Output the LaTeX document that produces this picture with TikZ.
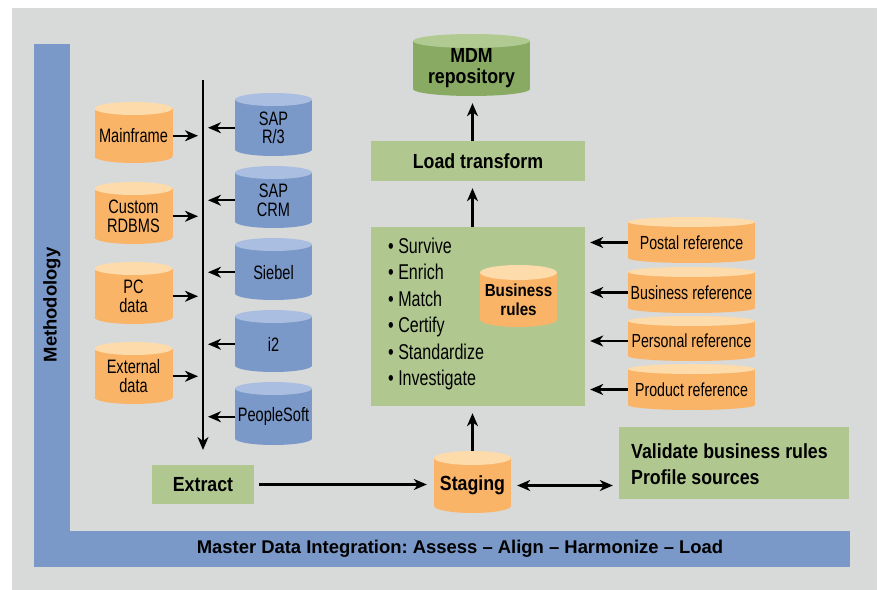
\documentclass[tikz,border=0pt]{standalone}
\usepackage{fontspec}
\setmainfont{Liberation Sans}
\newfontfamily\cond{Liberation Sans}[FakeStretch=0.75]
\newfontfamily\condB{Liberation Sans}[FakeStretch=0.87]
\usetikzlibrary{arrows.meta}
\frenchspacing
\definecolor{panel}{HTML}{D8DAD9}
\definecolor{barblue}{HTML}{7A98C8}
\definecolor{bluebody}{HTML}{7A98C8}
\definecolor{bluetop}{HTML}{AABEE2}
\definecolor{orbody}{HTML}{FAB468}
\definecolor{ortop}{HTML}{FDDBAA}
\definecolor{boxgreen}{HTML}{B0C890}
\definecolor{mdmbody}{HTML}{88AA62}
\definecolor{mdmtop}{HTML}{B0CA92}
\tikzset{
  arr/.style={line width=2.2bp, -{Stealth[length=13bp,width=11bp,inset=4bp]}},
  dbl/.style={line width=2.2bp, {Stealth[length=13bp,width=11bp,inset=4bp]}-{Stealth[length=13bp,width=11bp,inset=4bp]}},
  greenbox/.style={fill=boxgreen, inner sep=0pt},
  boldlabel/.style={font=\condB\bfseries\fontsize{20.5}{21}\selectfont},
}
\def\cylfont{\cond\fontsize{19.5}{18.5}\selectfont}
\newcommand\cyl[9]{%
  \fill[#7] ({#2-#4/2},{#3+#6}) rectangle ({#2+#4/2},{#3+#5-#6});
  \fill[#7] (#2,{#3+#5-#6}) ellipse [x radius={#4/2}, y radius={#6}];
  \fill[#8] (#2,{#3+#6}) ellipse [x radius={#4/2}, y radius={#6}];
  \coordinate (#1-top) at (#2,#3);
  \node[inner sep=0pt, minimum width=#4bp, minimum height={(#5-#6)*1bp}, align=center, font=\cylfont] (#1) at (#2,{#3+#5/2+#6/2}) {#9};
}
\begin{document}
\begin{tikzpicture}[x=1bp,y=-1bp]
\useasboundingbox (0,0) rectangle (882,590);
\fill[white] (0,0) rectangle (882,590);
\fill[panel] (12,8) rectangle (877,590);
% methodology L bar
\fill[barblue] (34,44) rectangle (70,567);
\fill[barblue] (34,531) rectangle (850,567);
\node[rotate=90, font=\bfseries\fontsize{18.5}{20}\selectfont] (method) at (52,305) {Methodology};
\node[font=\bfseries\fontsize{18.5}{20}\selectfont] (mdi) at (460,549) {Master Data Integration: Assess – Align – Harmonize – Load};

% left sources
\cyl{mainframe}{133.5}{102}{78}{61}{6.5}{orbody}{ortop}{Mainframe}
\cyl{rdbms}{133.5}{182}{78}{62}{6.5}{orbody}{ortop}{Custom\\RDBMS}
\cyl{pcdata}{133.5}{262}{78}{62}{6.5}{orbody}{ortop}{PC\\data}
\cyl{extdata}{133.5}{342}{78}{62}{6.5}{orbody}{ortop}{External\\data}

\cyl{sapr}{273.5}{93}{77}{63}{6.5}{bluebody}{bluetop}{SAP\\R/3}
\cyl{sapcrm}{273.5}{166}{77}{62}{6.5}{bluebody}{bluetop}{SAP\\CRM}
\cyl{siebel}{273.5}{238}{77}{62}{6.5}{bluebody}{bluetop}{Siebel}
\cyl{itwo}{273.5}{310}{77}{62}{6.5}{bluebody}{bluetop}{i2}
\cyl{psoft}{273.5}{382}{77}{63}{6.5}{bluebody}{bluetop}{PeopleSoft}

% references
\def\cylfont{\cond\fontsize{19}{18.5}\selectfont}
\cyl{postal}{691.5}{217}{127}{46}{5}{orbody}{ortop}{Postal reference}
\cyl{busref}{691.5}{267}{127}{46}{5}{orbody}{ortop}{Business reference}
\cyl{persref}{691.5}{316}{127}{45}{5}{orbody}{ortop}{Personal reference}
\cyl{prodref}{691.5}{364}{127}{46}{5}{orbody}{ortop}{Product reference}

% boxes
\node[greenbox, minimum width=214bp, minimum height=179bp] (stepbox) at (478,316.5) {};
\node[anchor=west, align=left, inner sep=0pt, font=\cond\fontsize{21.5}{26.6}\selectfont] (steps) at (388,314)
  {• Survive\\• Enrich\\• Match\\• Certify\\• Standardize\\• Investigate};
\node[greenbox, boldlabel, minimum width=214bp, minimum height=40bp] (load) at (478,161) {Load transform};
\node[greenbox, boldlabel, minimum width=102bp, minimum height=39bp] (extract) at (203,484.5) {Extract};
\node[greenbox, minimum width=230bp, minimum height=72bp] (validate) at (734,463) {};
\node[anchor=west, align=left, inner sep=0pt, font=\condB\bfseries\fontsize{20.5}{26}\selectfont] (valtext) at (631,464)
  {Validate business rules\\Profile sources};

\def\cylfont{\condB\bfseries\fontsize{17.5}{19}\selectfont}
\cyl{brules}{518.5}{265}{77}{62}{7.5}{orbody}{ortop}{Business\\rules}
\def\cylfont{\condB\bfseries\fontsize{20.5}{21}\selectfont}
\cyl{mdm}{471.5}{34}{117}{62}{7}{mdmbody}{mdmtop}{MDM\\repository}
\cyl{staging}{472.5}{451}{77}{62}{7}{orbody}{ortop}{Staging}

% bus line
\coordinate (bustop) at (203,80);
\coordinate (busbot) at (203,450);
\draw[arr, line width=2.5bp] (bustop) -- (busbot);
\foreach \n in {mainframe,rdbms,pcdata,extdata}
  \draw[arr, shorten >=5bp] (\n.east) -- (\n.east -| bustop);
\foreach \n in {sapr,sapcrm,siebel,itwo,psoft}
  \draw[arr, shorten >=5bp] (\n.west) -- (\n.west -| bustop);
\foreach \n in {postal,busref,persref,prodref}
  \draw[arr, shorten >=5bp] (\n.west) -- (\n.west -| stepbox.east);

\draw[arr, shorten <=5bp, shorten >=7bp] (extract.east) -- (extract.east -| staging.west);
\draw[dbl, shorten <=6bp, shorten >=6bp] (staging.east) -- (staging.east -| validate.west);
\draw[arr, shorten >=7bp] (staging-top) -- (stepbox.south -| staging-top);
\draw[arr, shorten >=7bp] (stepbox.north -| staging-top) -- (load.south -| staging-top);
\draw[arr, shorten >=7bp] (load.north -| staging-top) -- (mdm.south -| staging-top);
\end{tikzpicture}
\end{document}
